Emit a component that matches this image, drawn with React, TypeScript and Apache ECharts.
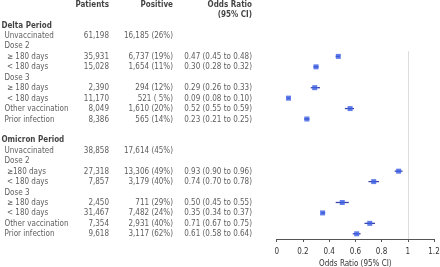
import { useEffect, useRef } from "react";
import * as echarts from "echarts";

const FONT = "'Liberation Sans Narrow', 'Arial Narrow', 'DejaVu Sans Condensed', sans-serif";

// Table rows (row index = position in list); "" = blank row
const rowLabels = [
  "Delta Period", "Unvaccinated", "Dose 2", "≥ 180 days", "< 180 days", "Dose 3", "≥ 180 days", "< 180 days", "Other vaccination", "Prior infection",
  "",
  "Omicron Period", "Unvaccinated", "Dose 2", "≥180 days", "< 180 days", "Dose 3", "≥ 180 days", "< 180 days", "Other vaccination", "Prior infection",
];
const rowLevels = [0, 1, 1, 2, 2, 1, 2, 2, 1, 1, 0, 0, 1, 1, 2, 2, 1, 2, 2, 1, 1];
const patients = [
  "", "61,198", "", "35,931", "15,028", "", "2,390", "11,170", "8,049", "8,386",
  "",
  "", "38,858", "", "27,318", "7,857", "", "2,450", "31,467", "7,354", "9,618",
];
const positive = [
  "", "16,185 (26%)", "", "6,737 (19%)", "1,654 (11%)", "", "294 (12%)", "521 ( 5%)", "1,610 (20%)", "565 (14%)",
  "",
  "", "17,614 (45%)", "", "13,306 (49%)", "3,179 (40%)", "", "711 (29%)", "7,482 (24%)", "2,931 (40%)", "3,117 (62%)",
];

// Forest plot rows
const orRows = [3, 4, 6, 7, 8, 9, 14, 15, 17, 18, 19, 20];
const orEstimate = [0.47, 0.30, 0.29, 0.09, 0.56, 0.23, 0.93, 0.74, 0.50, 0.35, 0.71, 0.61];
const orLow = [0.45, 0.28, 0.26, 0.08, 0.52, 0.21, 0.90, 0.70, 0.45, 0.34, 0.67, 0.58];
const orHigh = [0.48, 0.32, 0.33, 0.10, 0.59, 0.25, 0.96, 0.78, 0.55, 0.37, 0.75, 0.64];
const orText = [
  "0.47 (0.45 to 0.48)", "0.30 (0.28 to 0.32)", "0.29 (0.26 to 0.33)", "0.09 (0.08 to 0.10)", "0.52 (0.55 to 0.59)", "0.23 (0.21 to 0.25)",
  "0.93 (0.90 to 0.96)", "0.74 (0.70 to 0.78)", "0.50 (0.45 to 0.55)", "0.35 (0.34 to 0.37)", "0.71 (0.67 to 0.75)", "0.61 (0.58 to 0.64)",
];

const headerPatients = "Patients";
const headerPositive = "Positive";
const headerOR1 = "Odds Ratio";
const headerOR2 = "(95% CI)";
const xAxisName = "Odds Ratio (95% CI)";
const xMin = 0;
const xMax = 1.2;
const xInterval = 0.2;

export default function App() {
  const ref = useRef<HTMLDivElement>(null);
  useEffect(() => {
    const chart = echarts.init(ref.current!, null, { renderer: "svg" });

    const labelX = [1.5, 4.5, 7];
    const colPatients = 109;
    const colPositive = 173;
    const colOR = 252;

    const textData: any[] = [];
    const push = (x: number, y: number, text: string, align: string, bold: boolean) => {
      if (!text) return;
      textData.push({
        value: [x, y],
        label: {
          formatter: text,
          align,
          fontWeight: bold ? "bold" : "normal",
          color: bold ? "#111" : "#333",
        },
      });
    };
    push(colPatients, -2, headerPatients, "right", true);
    push(colPositive, -2, headerPositive, "right", true);
    push(colOR, -2, headerOR1, "right", true);
    push(colOR, -1, headerOR2, "right", true);
    rowLabels.forEach((l, i) => {
      push(labelX[rowLevels[i]], i, l, "left", rowLevels[i] === 0);
      push(colPatients, i, patients[i], "right", false);
      push(colPositive, i, positive[i], "right", false);
    });
    orRows.forEach((r, k) => push(colOR, r, orText[k], "right", false));

    chart.setOption({
      animation: false,
      textStyle: { fontFamily: FONT },
      grid: [
        { left: 0, right: 0, top: -1, bottom: 28, outerBoundsMode: "none", containLabel: false },
        { left: 276.7, right: 6, top: -1, bottom: 28, outerBoundsMode: "none", containLabel: false },
      ],
      xAxis: [
        { gridIndex: 0, type: "value", min: 0, max: 440, show: false },
        {
          gridIndex: 1,
          type: "value",
          position: "bottom",
          min: xMin,
          max: xMax,
          interval: xInterval,
          axisLine: { show: true, onZero: false, lineStyle: { color: "#555", width: 1 } },
          axisTick: { show: true, length: 3, lineStyle: { color: "#555" } },
          splitLine: { show: false },
          axisLabel: { fontSize: 8, color: "#333", margin: 8, fontFamily: FONT },
          name: xAxisName,
          nameLocation: "middle",
          nameGap: 17,
          nameTextStyle: { fontSize: 8, color: "#333", fontFamily: FONT },
        },
      ],
      yAxis: [
        { gridIndex: 0, type: "value", inverse: true, min: -2.5, max: 20.5, show: false },
        { gridIndex: 1, type: "value", inverse: true, min: -2.5, max: 20.5, show: false },
      ],
      series: [
        {
          type: "scatter",
          xAxisIndex: 0,
          yAxisIndex: 0,
          symbolSize: 0,
          silent: true,
          data: textData,
          label: {
            show: true,
            position: [0, 0],
            verticalAlign: "middle",
            fontSize: 8,
            color: "#333",
            fontFamily: FONT,
          },
        },
        {
          type: "custom",
          xAxisIndex: 1,
          yAxisIndex: 1,
          silent: true,
          data: orRows.map((r, k) => [orLow[k], orHigh[k], r]),
          encode: { x: [0, 1], y: 2 },
          renderItem: (_params: any, api: any) => {
            const a = api.coord([api.value(0), api.value(2)]);
            const b = api.coord([api.value(1), api.value(2)]);
            return {
              type: "line",
              shape: { x1: a[0], y1: a[1], x2: b[0], y2: b[1] },
              style: { stroke: "#3b45a8", lineWidth: 1.3 },
            };
          },
          markLine: {
            silent: true,
            symbol: "none",
            label: { show: false },
            lineStyle: { color: "#dcdcdc", width: 1, type: "solid" },
            data: [[{ coord: [1, 2.5] }, { coord: [1, 20.5] }]],
          },
        },
        {
          type: "scatter",
          xAxisIndex: 1,
          yAxisIndex: 1,
          symbol: "rect",
          symbolSize: [5, 5],
          silent: true,
          itemStyle: { color: "#3a5ce4" },
          data: orRows.map((r, k) => [orEstimate[k], r]),
        },
      ],
    });
    return () => chart.dispose();
  }, []);
  return <div ref={ref} style={{ position: "fixed", left: 0, top: 0, width: 440, height: 267 }} />;
}
